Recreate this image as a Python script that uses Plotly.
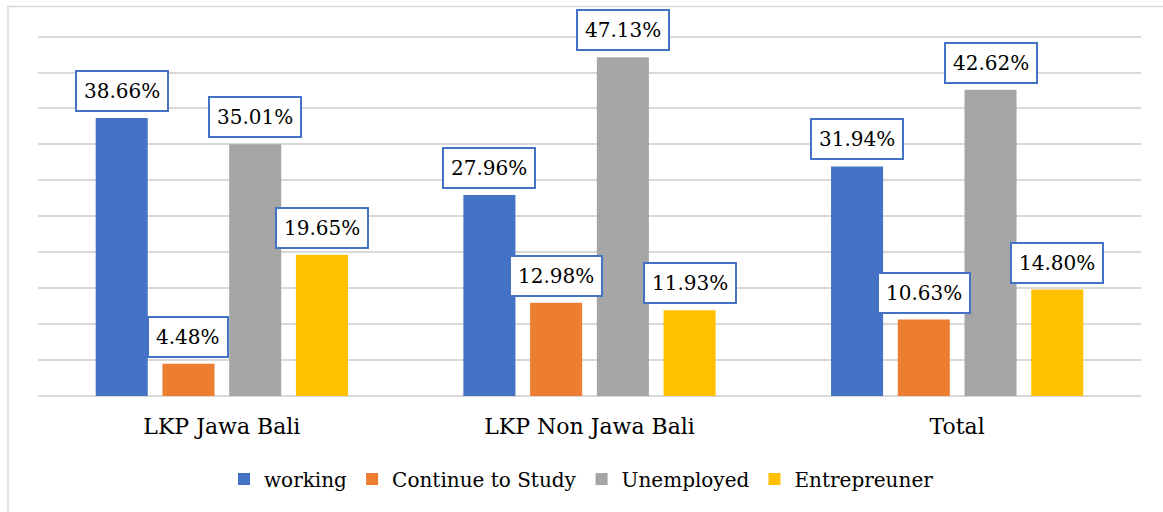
import plotly.graph_objects as go

categories = ["LKP Jawa Bali", "LKP Non Jawa Bali", "Total"]
series_names = ["working", "Continue to Study", "Unemployed", "Entrepreuner"]
working = [38.66, 27.96, 31.94]
continue_study = [4.48, 12.98, 10.63]
unemployed = [35.01, 47.13, 42.62]
entrepreneur = [19.65, 11.93, 14.80]
colors = ["#4472C4", "#ED7D31", "#A5A5A5", "#FFC000"]

series_values = [working, continue_study, unemployed, entrepreneur]
FONT = "DejaVu Serif"

fig = go.Figure()
for name, vals, col in zip(series_names, series_values, colors):
    fig.add_trace(go.Bar(name=name, x=categories, y=vals, marker_color=col,
                         marker_line_width=0))

bargap = 0.274
n = len(series_names)
slot = (1 - bargap) / n
for i, vals in enumerate(series_values):
    for j, v in enumerate(vals):
        fig.add_annotation(
            x=j + (i - (n - 1) / 2) * slot, y=v, xref="x", yref="y",
            text=f"{v:.2f}%", showarrow=False, yanchor="bottom", yshift=6,
            font=dict(family=FONT, size=20, color="#000000"),
            bgcolor="white", bordercolor="#4472C4", borderwidth=2, borderpad=7,
        )

# outer chart border
fig.add_shape(type="rect", xref="paper", yref="paper",
              x0=-0.0272, x1=1.05, y0=-0.4, y1=1.0727,
              line=dict(color="#D9D9D9", width=1.5), fillcolor="rgba(0,0,0,0)",
              layer="below")

fig.update_layout(
    width=1163, height=512,
    margin=dict(l=38, r=22, t=33, b=116),
    paper_bgcolor="white", plot_bgcolor="white",
    barmode="group", bargap=bargap, bargroupgap=0.22,
    font=dict(family=FONT, size=20, color="#000000"),
    showlegend=True,
    legend=dict(orientation="h", x=0.5, xanchor="center", xref="container",
                y=1 - 479 / 512, yanchor="middle", yref="container",
                font=dict(family=FONT, size=20), itemwidth=30,
                traceorder="normal"),
    xaxis=dict(showgrid=False, showline=False, ticks="", tickfont=dict(size=22),
               ticklabelstandoff=15),
    yaxis=dict(range=[0, 50.5], dtick=5, showgrid=True, gridcolor="#D9D9D9",
               gridwidth=1.5, showticklabels=False, zeroline=True,
               zerolinecolor="#D9D9D9", zerolinewidth=1.5, fixedrange=True),
)

fig.write_html("out.html")
